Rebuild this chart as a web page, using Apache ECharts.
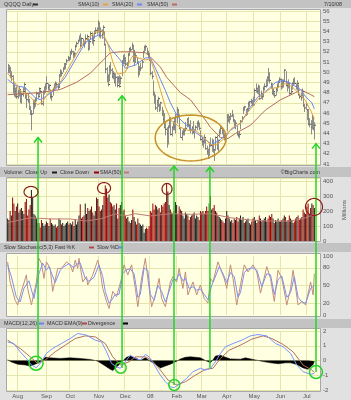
<!DOCTYPE html>
<html><head><meta charset="utf-8">
<script src="https://cdn.jsdelivr.net/npm/echarts@6/dist/echarts.min.js"></script>
<style>html,body{margin:0;padding:0;background:#e1e1e1}#c{width:351px;height:400px}</style>
</head><body><div id="c"></div><script>
// ---------- categories: trading days 2007-07-20 .. 2008-07-10 ----------
const holidays = ['2007-09-03','2007-11-22','2007-12-25','2008-01-01','2008-01-21','2008-02-18','2008-03-21','2008-05-26','2008-07-04'];
function buildDays(){const out=[];let t=Date.UTC(2007,6,20);const e=Date.UTC(2008,6,10);
  while(t<=e){const d=new Date(t);const wd=d.getUTCDay();const s=d.toISOString().slice(0,10);
    if(wd!==0&&wd!==6&&holidays.indexOf(s)<0)out.push(s);t+=86400000;}return out;}
const dates = buildDays();
const padCats = ['p1','p2','p3','p4'];
const monthLabels = {'01':'08','02':'Feb','03':'Mar','04':'Apr','05':'May','06':'Jun','07':'Jul','08':'Aug','09':'Sep','10':'Oct','11':'Nov','12':'Dec'};
const priceTicks = [41,56];
const volumeTicks = [0,100,200,300,400];
const stochTicks = [0,20,50,80,100];
const macdTicks = [-2,-1,0,1,2];

// ---------- daily price data ----------
const close = [
50.2,50.4,49.6,49.6,48.4,47.8,48.1,47.6,
48.0,48.3,47.1,47.8,48.1,48.8,47.5,47.3,47.2,46.4,45.9,45.9,46.9,46.9,47.2,47.9,47.6,48.4,48.1,46.9,48.1,48.1,48.6,
48.9,48.5,48.7,47.6,47.6,48.3,48.5,48.9,48.8,48.5,49.7,50.0,49.9,50.3,50.5,50.8,51.1,51.4,51.3,
51.9,52.0,51.7,51.8,52.5,52.8,53.1,53.3,52.6,53.3,52.9,52.8,53.3,53.5,52.3,53.0,53.8,53.3,53.1,53.8,54.1,54.0,54.8,
53.6,54.0,53.7,54.4,52.7,50.3,49.5,48.8,50.5,50.2,49.6,49.9,49.0,49.5,48.7,49.4,48.6,49.4,51.0,51.3,51.2,
50.8,50.7,51.7,52.3,52.2,52.6,51.1,51.5,51.6,51.0,49.9,50.3,50.4,51.0,52.0,52.4,52.5,51.9,51.8,51.2,
49.9,49.6,47.8,47.6,46.5,47.2,47.4,46.3,47.0,45.9,45.4,44.6,44.4,44.0,44.6,45.0,43.9,44.6,44.8,44.6,45.6,
46.3,45.8,44.5,43.6,44.0,44.1,44.3,44.5,45.4,44.8,44.6,44.3,44.6,44.1,44.3,44.6,45.0,45.0,44.5,43.4,
43.2,43.2,43.6,42.5,42.2,41.6,43.0,42.8,43.2,42.4,41.9,43.6,42.5,43.3,44.1,44.5,44.3,43.7,43.5,43.8,
45.6,45.3,45.6,45.7,45.8,45.3,44.6,45.0,43.9,43.8,43.9,45.2,45.5,46.4,46.6,45.9,46.4,46.9,47.1,47.1,46.9,46.8,
48.2,48.4,48.1,48.6,47.4,47.9,47.6,48.4,48.6,48.7,49.5,49.4,49.2,48.8,47.9,48.1,47.7,48.3,48.6,49.0,49.3,
48.6,48.7,49.1,50.2,48.7,48.7,48.9,47.9,48.1,48.9,49.1,48.9,48.6,48.9,47.8,47.6,47.5,48.1,46.7,46.5,46.8,
46.3,44.9,44.9,44.6,45.6,44.4,44.8];
const high = [
50.8,50.7,50.5,50.1,49.7,48.9,48.5,48.6,
48.3,48.6,48.3,48.0,48.5,49.0,48.5,47.9,47.9,47.4,46.7,46.3,47.3,47.3,47.5,48.1,48.0,48.5,48.3,47.9,48.2,48.6,48.9,
49.6,48.9,48.8,48.3,48.0,48.5,48.9,49.1,49.0,48.9,49.8,50.3,50.2,50.5,50.9,50.9,51.3,51.6,51.5,
52.1,52.3,52.1,52.0,52.7,53.0,53.2,53.6,53.8,53.4,53.3,53.1,53.7,53.7,53.3,53.2,54.0,53.9,53.6,54.1,54.4,54.4,55.1,
54.9,54.4,54.2,54.6,54.0,52.8,50.5,49.8,50.7,51.0,50.4,50.1,49.9,49.9,49.6,49.6,49.7,49.6,51.2,51.7,51.8,
51.5,51.0,51.9,52.4,52.5,52.9,52.7,52.2,51.9,51.5,50.9,50.6,50.9,51.2,52.1,52.6,52.7,52.4,52.1,51.9,
51.2,50.1,49.2,48.1,47.8,47.3,47.6,46.9,47.1,46.6,46.3,46.0,45.2,44.6,44.8,45.6,45.6,44.7,45.2,45.6,45.9,
46.6,46.4,45.6,44.6,44.3,44.5,44.5,45.1,45.5,45.6,44.9,45.3,44.7,45.2,44.4,44.8,45.2,45.3,45.0,44.3,
43.6,43.4,43.9,43.5,42.8,42.5,43.1,43.6,43.5,43.4,42.4,43.7,43.8,43.4,44.4,44.7,44.6,44.3,44.0,44.0,
45.9,45.9,45.7,46.0,46.3,45.7,45.4,45.3,44.7,44.1,44.2,45.3,45.7,46.6,46.7,46.4,46.5,47.1,47.2,47.4,47.3,47.6,
48.4,48.9,48.5,48.8,48.7,48.2,47.9,48.6,48.9,49.3,49.6,50.4,50.0,49.0,48.9,48.4,48.0,48.5,48.9,49.2,49.5,
49.4,49.3,49.3,50.3,50.1,49.1,49.3,48.9,48.7,49.0,49.4,49.5,48.9,49.2,48.8,47.9,48.0,48.4,47.8,46.9,47.1,
46.4,46.4,45.5,45.3,45.9,45.6,45.1];
const low = [
49.9,49.9,49.4,49.1,47.9,47.6,47.5,47.4,
47.4,47.6,47.0,46.9,47.6,48.2,47.4,46.5,47.0,46.3,45.8,44.3,45.9,46.4,46.6,47.2,47.4,47.7,47.9,46.8,46.7,47.8,48.0,
48.3,48.2,48.2,47.4,47.2,47.7,48.2,48.4,48.5,48.3,48.5,49.5,49.6,50.0,50.3,50.3,50.9,51.1,51.1,
51.3,51.7,51.4,51.5,52.1,52.5,52.8,53.0,52.3,52.7,52.6,52.4,52.8,53.1,52.1,52.2,53.2,52.8,52.6,53.3,53.8,53.7,53.9,
53.4,53.3,53.3,53.6,52.6,49.9,49.0,48.6,49.1,49.8,49.4,49.3,48.9,48.6,48.5,48.9,48.5,48.8,49.6,50.8,50.8,
50.6,50.3,50.8,51.6,52.0,52.2,51.0,50.6,50.9,50.8,49.5,49.7,50.1,50.4,51.4,52.0,52.1,51.8,51.4,51.1,
49.7,49.3,47.7,46.9,46.3,46.1,46.6,46.1,46.4,45.7,45.0,44.5,43.8,42.6,42.9,44.5,43.8,43.7,44.3,44.3,44.0,
45.0,45.7,44.4,43.6,43.3,43.8,43.8,44.2,44.6,44.7,44.3,44.0,43.9,44.0,43.5,44.2,44.3,44.6,44.3,43.3,
42.8,42.6,43.0,42.4,41.9,41.5,41.8,42.7,42.2,42.1,41.3,42.3,42.4,42.2,43.6,43.9,43.9,43.6,43.3,43.3,
44.2,45.1,45.0,45.3,45.6,45.1,44.5,44.4,43.8,43.6,43.5,44.4,45.1,45.9,46.2,45.7,45.8,46.2,46.6,46.9,46.6,46.7,
47.2,48.0,47.9,47.8,47.3,47.4,47.3,47.6,48.2,48.5,48.6,49.1,48.9,48.4,47.8,47.7,47.5,47.7,48.1,48.5,49.0,
48.3,48.4,48.5,49.1,48.6,48.1,48.4,47.8,47.8,48.3,48.7,48.8,48.3,48.2,47.7,47.4,47.2,47.6,46.6,46.1,46.3,
45.3,44.8,44.6,43.9,44.4,44.3,43.4];
// volume, millions
const volume = [
150,140,200,170,290,250,200,230,
250,190,210,220,200,180,260,280,170,210,240,340,290,180,170,150,120,120,90,140,120,100,110,
130,120,100,150,120,110,100,110,90,100,150,140,110,120,100,110,120,130,110,
120,110,130,100,140,110,130,170,245,150,160,170,250,180,220,200,210,230,190,170,200,290,280,
230,200,210,240,300,370,350,290,310,260,250,230,240,210,250,150,220,240,260,200,210,
170,150,160,130,120,140,210,160,130,110,150,120,110,100,110,55,80,90,80,100,
200,190,250,210,240,230,210,220,190,240,230,250,260,380,330,240,210,190,180,200,260,
240,180,230,210,200,170,150,190,180,170,140,160,170,180,190,150,170,160,140,200,
190,200,180,200,230,200,250,300,210,220,240,200,190,170,160,150,140,130,120,150,
200,170,150,130,140,120,150,140,160,130,150,170,140,160,120,130,140,150,120,110,130,150,
160,140,120,140,170,150,130,140,150,160,130,150,170,160,180,150,120,140,130,150,130,
130,140,150,170,160,130,140,170,150,140,120,130,150,160,170,140,150,160,210,190,180,
230,250,180,220,250,240,220];

// ---------- indicator lines, read at [day index, value] ----------
const sma10 = [[0,49.9],[4,49.3],[10,48.2],[18,47.6],[24,46.8],[28,47.1],[32,47.9],[38,48.5],[43,49.2],[50,50.7],[56,52.0],[62,53.1],[70,53.9],[75,54.1],[80,52.8],[84,51.0],[88,49.8],[94,50.0],[98,51.2],[100,51.6],[104,51.4],[110,51.2],[114,51.3],[118,49.9],[122,48.3],[126,46.6],[131,45.2],[138,44.6],[144,44.3],[150,44.3],[156,43.7],[162,42.9],[167,42.9],[174,43.6],[179,44.5],[186,45.0],[192,46.1],[198,47.0],[203,47.8],[210,48.4],[216,48.5],[222,48.9],[227,48.6],[232,48.0],[238,47.2],[243,46.0],[245,45.4]];
const sma20 = [[0,49.3],[6,48.7],[14,48.5],[18,48.0],[22,47.5],[26,47.3],[30,47.6],[38,48.3],[46,49.5],[54,51.2],[62,52.9],[70,53.5],[74,53.7],[78,53.2],[83,52.2],[90,51.2],[94,50.4],[102,50.7],[110,51.4],[114,51.4],[118,50.4],[122,49.3],[126,48.2],[130,47.0],[136,45.6],[142,44.9],[150,44.1],[158,43.4],[163,42.9],[170,43.4],[178,44.3],[186,45.0],[194,46.6],[200,47.6],[206,48.1],[214,49.0],[220,49.2],[226,48.9],[234,48.3],[238,47.6],[243,47.0],[245,46.4]];
const sma50 = [[0,47.8],[14,47.9],[26,48.0],[42,48.3],[55,49.0],[66,49.9],[74,50.9],[82,51.9],[90,52.0],[98,52.0],[110,51.9],[114,51.5],[122,50.5],[127,49.5],[138,48.0],[146,47.3],[154,46.0],[162,44.6],[170,43.6],[176,43.5],[182,44.0],[194,44.8],[206,46.3],[218,47.3],[230,48.0],[234,48.3],[242,47.8],[245,47.6]];
const volSma50 = [[0,122],[18,155],[34,147],[50,147],[62,133],[74,147],[86,180],[94,167],[102,182],[114,167],[130,182],[146,178],[162,182],[178,155],[194,140],[210,133],[226,133],[238,155],[245,178]];
const stochK = [[0,90],[2,56],[6,25],[8,17],[11,40],[15,68],[16,45],[19,17],[23,56],[25,96],[27,88],[29,62],[31,90],[34,79],[36,40],[40,79],[43,79],[47,90],[50,85],[52,73],[54,93],[56,79],[57,96],[60,56],[63,65],[64,51],[68,68],[72,93],[74,73],[76,45],[79,23],[81,11],[84,40],[87,31],[88,28],[91,62],[93,85],[96,68],[99,85],[102,45],[104,14],[107,62],[110,96],[112,62],[115,14],[118,34],[121,62],[123,28],[126,14],[130,56],[132,65],[135,56],[137,79],[140,45],[142,73],[144,34],[148,56],[151,34],[154,51],[157,28],[160,20],[162,62],[164,56],[168,90],[171,73],[173,62],[175,45],[178,85],[180,62],[183,17],[186,51],[189,85],[192,73],[196,85],[199,73],[202,37],[207,82],[210,62],[213,23],[216,76],[219,62],[223,17],[226,45],[228,76],[232,17],[235,23],[238,17],[242,56],[244,34],[245,70]];
const stochD = [[0,85],[3,65],[7,30],[10,22],[13,45],[17,58],[21,28],[25,70],[28,88],[31,76],[33,82],[38,55],[42,76],[45,82],[49,87],[53,80],[55,86],[58,88],[62,62],[65,57],[69,64],[73,85],[76,65],[78,40],[81,20],[83,25],[86,35],[89,35],[92,70],[95,77],[98,78],[101,70],[104,30],[106,35],[109,80],[112,75],[114,35],[117,25],[120,50],[123,40],[126,22],[129,40],[132,60],[135,60],[137,70],[140,58],[142,62],[145,45],[148,48],[151,42],[154,44],[157,35],[160,26],[163,50],[165,60],[169,82],[172,70],[175,55],[178,72],[181,65],[184,30],[186,38],[189,72],[192,78],[196,80],[199,76],[203,48],[207,70],[210,68],[213,35],[216,60],[219,66],[223,30],[226,38],[229,65],[232,30],[235,22],[238,20],[242,45],[245,50]];
const macdLine = [[0,1.26],[5,1.15],[10,0.59],[15,0.14],[19,-0.31],[23,-0.49],[27,-0.09],[31,0.48],[36,0.82],[43,1.15],[50,1.49],[56,1.83],[63,1.72],[70,1.38],[75,1.26],[79,0.59],[83,-0.2],[87,-0.42],[90,-0.53],[94,-0.09],[98,0.36],[102,0.14],[106,0.03],[110,0.41],[113,0.25],[118,-0.42],[122,-0.99],[126,-1.44],[130,-1.78],[133,-1.84],[138,-1.55],[143,-1.21],[148,-0.76],[154,-0.53],[158,-0.65],[162,-0.53],[166,-0.09],[170,0.48],[174,0.93],[180,1.15],[187,1.38],[194,1.67],[200,1.76],[207,1.67],[214,1.15],[220,0.93],[226,0.48],[231,-0.31],[236,-0.76],[242,-0.94],[245,-0.87]];
const macdSignal = [[0,1.38],[10,0.82],[18,0.25],[24,-0.2],[30,0.03],[38,0.59],[46,1.04],[54,1.49],[62,1.67],[70,1.6],[78,1.15],[84,0.25],[90,-0.31],[97,-0.09],[102,0.25],[110,0.25],[115,0.03],[122,-0.65],[128,-1.32],[135,-1.66],[142,-1.44],[150,-0.99],[158,-0.6],[164,-0.53],[170,0.14],[177,0.7],[186,1.04],[195,1.45],[204,1.67],[211,1.49],[220,1.09],[228,0.59],[236,-0.31],[243,-0.65],[245,-0.8]];
const macdDiv = [[0,0.05],[3,-0.1],[8,-0.25],[14,-0.3],[18,-0.38],[22,-0.25],[26,-0.1],[28,0.05],[30,0.22],[34,0.18],[42,0.14],[50,0.18],[58,0.14],[66,0.07],[70,0],[72,-0.05],[78,-0.38],[82,-0.6],[84,-0.68],[88,-0.38],[91,-0.1],[93,0.05],[95,0.22],[98,0.3],[102,0.18],[106,0],[110,0.18],[114,-0.05],[118,-0.25],[122,-0.5],[126,-0.38],[130,-0.25],[135,-0.05],[138,0.11],[142,0.22],[146,0.25],[150,0.22],[154,0.18],[158,0],[162,-0.15],[164,0.05],[166,0.3],[170,0.36],[174,0.22],[178,0.11],[186,0.09],[190,0.18],[194,0.11],[198,0.04],[203,-0.05],[210,-0.16],[216,-0.22],[222,-0.16],[226,-0.16],[231,-0.27],[236,-0.5],[240,-0.6],[244,-0.27],[245,-0.05]];

// ---------- hand-drawn annotations (data coordinates) ----------
const arrows = [{idx:24.3,tip:43.6,base:-0.18},{idx:91.4,tip:47.7,base:-0.49},{idx:132.9,tip:40.8,base:-1.66},{idx:161.6,tip:40.7,base:-0.55},{idx:246.3,tip:43.0,base:-0.78}];
const macdCircles = [{idx:22.7,v:-0.18,r:7},{idx:90.3,v:-0.49,r:5.5},{idx:133.1,v:-1.66,r:5.5},{idx:246.3,v:-0.78,r:6.5}];
const volCircles = [{idx:18.7,v:327,rx:7,ry:5.5},{idx:77,v:353,rx:6.5,ry:5.5},{idx:127.3,v:347,rx:5,ry:5.5},{idx:244.7,v:227,rx:8.5,ry:8.5}];
const priceEllipse = {idx:146.2,v:43.55,rx:35.5,ry:23};

// ---------- build ----------
const categories = dates.concat(padCats);
const monthStart = new Set();
dates.forEach((d,i)=>{ if(i>0 && d.slice(5,7)!==dates[i-1].slice(5,7)) monthStart.add(i); });
const FONT = 'Liberation Sans, Arial, sans-serif';
const gridColor = '#e5e5ae';
const lbl = {color:'#555', fontSize:6, fontFamily:FONT};
const chart = echarts.init(document.getElementById('c'), null, {width:351, height:400});
const gridsCfg = [
  {left:7, right:31, top:11, height:153},
  {left:7, right:31, top:178, height:63},
  {left:7, right:31, top:256, height:59},
  {left:7, right:31, top:331, height:59}
];
const xAxes = gridsCfg.map((g,k)=>({
  type:'category', gridIndex:k, data:categories, boundaryGap:true,
  axisLine:{show:false}, axisTick:{show:false},
  axisLabel: k===3 ? Object.assign({show:true, margin:3, interval:(i)=>monthStart.has(i),
     formatter:(v)=>monthLabels[v.slice(5,7)]||''}, lbl) : {show:false},
  splitLine:{show:true, interval:(i)=>monthStart.has(i), lineStyle:{color:gridColor, width:1}}
}));
const yBase = (k)=>({type:'value', gridIndex:k, position:'right', axisLine:{show:false}, axisTick:{show:false},
  splitLine:{show:true, lineStyle:{color:gridColor, width:1}}});
const yAxes = [
  Object.assign(yBase(0), {min:priceTicks[0], max:priceTicks[1], interval:1, axisLabel:Object.assign({margin:3}, lbl)}),
  Object.assign(yBase(1), {min:0, max:420, interval:100, axisLabel:Object.assign({margin:3, formatter:(v)=>volumeTicks.indexOf(v)>=0?String(v):''}, lbl)}),
  Object.assign(yBase(2), {min:0, max:100, interval:10,
     axisLabel:Object.assign({margin:3, formatter:(v)=>stochTicks.indexOf(v)>=0?String(v):''}, lbl),
     splitLine:{show:true, lineStyle:{width:1, color:[0,10,20,30,40,50,60,70,80,90,100].map(v=>(v===20||v===50||v===80)?gridColor:'rgba(0,0,0,0)')}}}),
  Object.assign(yBase(3), {min:macdTicks[0], max:macdTicks[macdTicks.length-1], interval:1, axisLabel:Object.assign({margin:3}, lbl)})
];
const lineS = (k, data, color, z)=>({type:'line', xAxisIndex:k, yAxisIndex:k, data:data, symbol:'none', silent:true,
  lineStyle:{color:color, width:1}, z:z||3});
const ohlc = dates.map((d,i)=>[i, high[i], low[i], close[i]]);
const volData = volume.map((v,i)=>({value:v, itemStyle:{color:(i===0||close[i]>=close[i-1])?'#1b1b1b':'#980000'}}));

chart.setOption({
  animation:false,
  backgroundColor:'#e1e1e1',
  grid: gridsCfg,
  xAxis: xAxes,
  yAxis: yAxes,
  series: [
    {type:'custom', xAxisIndex:0, yAxisIndex:0, data:ohlc, encode:{x:0, y:[1,2,3]}, silent:true, z:2,
     renderItem:(p,api)=>{const i=api.value(0);const h=api.coord([i,api.value(1)]);const l=api.coord([i,api.value(2)]);const c=api.coord([i,api.value(3)]);
       const x=Math.round(h[0])+0.5;
       return {type:'group', children:[
         {type:'line', shape:{x1:x,y1:h[1],x2:x,y2:l[1]}, style:{stroke:'#8d8d8d', lineWidth:1}},
         {type:'line', shape:{x1:x,y1:c[1],x2:x+1.5,y2:c[1]}, style:{stroke:'#505050', lineWidth:1}}]};}},
    lineS(0, sma50, '#b66d5f'),
    lineS(0, sma20, '#6d86ee'),
    lineS(0, sma10, '#e3a342'),
    {type:'bar', xAxisIndex:1, yAxisIndex:1, data:volData, barWidth:1, silent:true},
    lineS(1, volSma50, '#c07a70', 4),
    lineS(2, stochK, '#c58c7c'),
    lineS(2, stochD, '#7f90f2'),
    {type:'line', xAxisIndex:3, yAxisIndex:3, data:macdDiv, symbol:'none', silent:true,
     lineStyle:{color:'#000', width:0.5}, areaStyle:{color:'#000', opacity:1, origin:'auto'}, z:2},
    lineS(3, macdSignal, '#b5705e'),
    lineS(3, macdLine, '#7a94ff')
  ]
});

// ---------- decorations & annotations ----------
function px(k, idx, val){const i0=Math.floor(idx), f=idx-i0;
  const a=chart.convertToPixel({xAxisIndex:k,yAxisIndex:k},[i0,val]);
  const b=chart.convertToPixel({xAxisIndex:k,yAxisIndex:k},[i0+1,val]);
  return [a[0]+(b[0]-a[0])*f, a[1]];}
const els = [];
const strip = (y,h)=>els.push({type:'rect', shape:{x:0,y:y,width:351,height:h}, style:{fill:'#c3c3c3'}, z:-20, silent:true});
strip(0,8); strip(167,10); strip(243,9); strip(319,9);
const panel = (y,h)=>{els.push({type:'rect', shape:{x:7,y:y,width:313,height:h}, style:{fill:'#ffffe2'}, z:-10, silent:true});
  els.push({type:'rect', shape:{x:6.5,y:y-0.5,width:314,height:h+1}, style:{fill:'none', stroke:'#a8a8a8', lineWidth:1}, z:50, silent:true});};
panel(10,155); panel(178,63); panel(254,62); panel(329,62);
const HF = '5.4px '+FONT;
const txt = (s,x,y,align,color)=>els.push({type:'text', x:x, y:y, silent:true, z:60,
  style:{text:s, font:HF, fill:color||'#333', align:align||'left', textAlign:align||'left', verticalAlign:'middle', textVerticalAlign:'middle'}});
const sw = (x,y,color)=>els.push({type:'rect', shape:{x:x,y:y-1,width:5,height:2}, style:{fill:color}, z:60, silent:true});
txt('QQQQ Daily',4,4.5); sw(33,4.5,'#333');
txt('SMA(10)',78,4.5); sw(103,4.5,'#e3a342');
txt('SMA(20)',112,4.5); sw(137,4.5,'#6d86ee');
txt('SMA(50)',147,4.5); sw(172,4.5,'#b66d5f');
txt('7/10/08',342,4.5,'right');
txt('Volume: Close Up',4,172.5); sw(52,172.5,'#1b1b1b');
txt('Close Down',60,172.5); sw(94,172.5,'#980000');
txt('SMA(50)',100,172.5); sw(124,172.5,'#c07a70');
txt('\u00A9BigCharts.com',320,172.5,'right');
txt('Slow Stochastic(5,3) Fast %K',4,247.5); sw(89,247.5,'#b04848');
txt('Slow %D',97,247.5); sw(118,247.5,'#6f80f0');
txt('MACD(12,26)',4,323.5); sw(39,323.5,'#6f80f0');
txt('MACD EMA(9)',47,323.5); sw(82,323.5,'#b04848');
txt('Divergence',88,323.5); sw(123,323.5,'#000');
els.push({type:'text', x:344, y:210, rotation:Math.PI/2, silent:true, z:60,
  style:{text:'Millions', font:'6px '+FONT, fill:'#555', align:'center', textAlign:'center', verticalAlign:'middle', textVerticalAlign:'middle'}});

const GREEN = '#27d327';
arrows.forEach(a=>{
  const t=px(0,a.idx,a.tip), b=px(3,a.idx,a.base);
  els.push({type:'line', shape:{x1:t[0],y1:t[1],x2:t[0],y2:b[1]}, style:{stroke:GREEN, lineWidth:1.5}, z:80, silent:true});
  els.push({type:'polyline', shape:{points:[[t[0]-4,t[1]+5],[t[0],t[1]],[t[0]+4,t[1]+5]]}, style:{stroke:GREEN, lineWidth:1.5, fill:'none'}, z:80, silent:true});
});
macdCircles.forEach(c=>{const p=px(3,c.idx,c.v);
  els.push({type:'circle', shape:{cx:p[0],cy:p[1],r:c.r}, style:{stroke:GREEN, lineWidth:1.5, fill:'none'}, z:80, silent:true});});
function ellipsePts(cx,cy,rx,ry){const pts=[];for(let i=0;i<48;i++){const a=i/48*Math.PI*2;pts.push([cx+rx*Math.cos(a),cy+ry*Math.sin(a)]);}return pts;}
volCircles.forEach(c=>{const p=px(1,c.idx,c.v);
  els.push({type:'polygon', shape:{points:ellipsePts(p[0],p[1],c.rx,c.ry)}, style:{stroke:'#8e1c1c', lineWidth:1.2, fill:'none'}, z:80, silent:true});});
(function(){const p=px(0,priceEllipse.idx,priceEllipse.v);
  els.push({type:'polygon', shape:{points:ellipsePts(p[0],p[1],priceEllipse.rx,priceEllipse.ry)}, style:{stroke:'#c8912c', lineWidth:1.5, fill:'none'}, z:80, silent:true});})();

chart.setOption({graphic:{elements:els}});
</script></body></html>
